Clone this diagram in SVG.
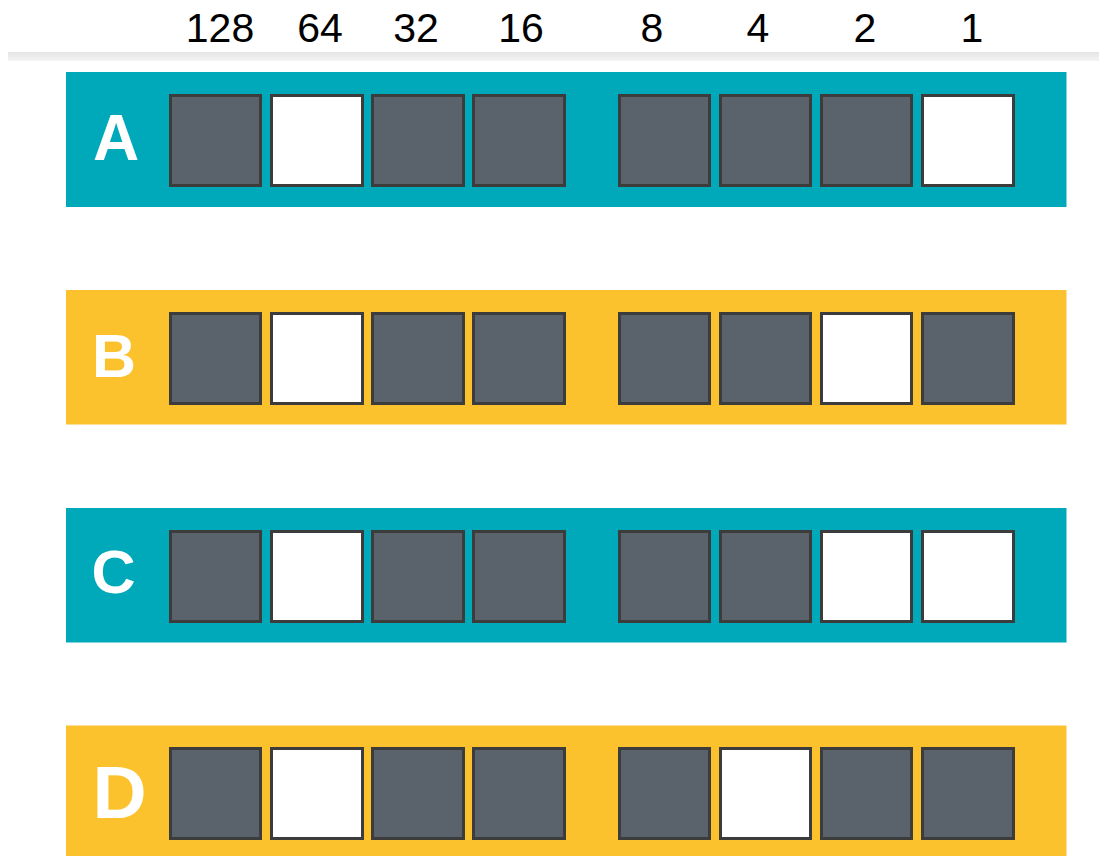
<svg xmlns="http://www.w3.org/2000/svg" width="1099" height="856" viewBox="0 0 1099 856">
<defs>
<linearGradient id="hl" x1="0" y1="0" x2="0" y2="1">
<stop offset="0" stop-color="#e4e4e4"/>
<stop offset="1" stop-color="#f4f4f4"/>
</linearGradient>
</defs>
<style>
.num{font-family:"Liberation Sans",Arial,sans-serif;font-size:41px;fill:#000;text-anchor:middle}
.teal{fill:#00a9ba}
.yel{fill:#fbc22d}
.let{font-family:"Liberation Sans",Arial,sans-serif;font-weight:bold;fill:#fff;text-anchor:middle}
.on{fill:#5a636c;stroke:#3c3c3c;stroke-width:3}
.off{fill:#fff;stroke:#3c3c3c;stroke-width:3}
</style>
<rect width="1099" height="856" fill="#fff"/>
<g id="header">
<rect x="8" y="52" width="1091" height="9" fill="url(#hl)"/>
<text class="num" x="220" y="42">128</text>
<text class="num" x="320" y="42">64</text>
<text class="num" x="416" y="42">32</text>
<text class="num" x="521" y="42">16</text>
<text class="num" x="652" y="42">8</text>
<text class="num" x="758" y="42">4</text>
<text class="num" x="865" y="42">2</text>
<text class="num" x="972" y="42">1</text>
</g>
<g id="rowA">
<rect class="teal" x="66" y="72" width="1000.5" height="135"/>
<text class="let" x="116" y="160" font-size="64">A</text>
<rect class="on" x="170.5" y="95.5" width="90" height="90"/>
<rect class="off" x="271.5" y="95.5" width="91" height="90"/>
<rect class="on" x="372.5" y="95.5" width="91" height="90"/>
<rect class="on" x="473.5" y="95.5" width="91" height="90"/>
<rect class="on" x="619.5" y="95.5" width="90" height="90"/>
<rect class="on" x="720.5" y="95.5" width="90" height="90"/>
<rect class="on" x="821.5" y="95.5" width="90" height="90"/>
<rect class="off" x="922.5" y="95.5" width="91" height="90"/>
</g>
<g id="rowB">
<rect class="yel" x="66" y="290" width="1000.5" height="134.5"/>
<text class="let" x="114" y="377" font-size="61">B</text>
<rect class="on" x="170.5" y="313.5" width="90" height="90"/>
<rect class="off" x="271.5" y="313.5" width="91" height="90"/>
<rect class="on" x="372.5" y="313.5" width="91" height="90"/>
<rect class="on" x="473.5" y="313.5" width="91" height="90"/>
<rect class="on" x="619.5" y="313.5" width="90" height="90"/>
<rect class="on" x="720.5" y="313.5" width="90" height="90"/>
<rect class="off" x="821.5" y="313.5" width="90" height="90"/>
<rect class="on" x="922.5" y="313.5" width="91" height="90"/>
</g>
<g id="rowC">
<rect class="teal" x="66" y="508" width="1000.5" height="134.5"/>
<text class="let" x="113.5" y="593" font-size="61">C</text>
<rect class="on" x="170.5" y="531.5" width="90" height="90"/>
<rect class="off" x="271.5" y="531.5" width="91" height="90"/>
<rect class="on" x="372.5" y="531.5" width="91" height="90"/>
<rect class="on" x="473.5" y="531.5" width="91" height="90"/>
<rect class="on" x="619.5" y="531.5" width="90" height="90"/>
<rect class="on" x="720.5" y="531.5" width="90" height="90"/>
<rect class="off" x="821.5" y="531.5" width="90" height="90"/>
<rect class="off" x="922.5" y="531.5" width="91" height="90"/>
</g>
<g id="rowD">
<rect class="yel" x="66" y="725.5" width="1000.5" height="135"/>
<text class="let" x="119.5" y="818" font-size="75">D</text>
<rect class="on" x="170.5" y="748.5" width="90" height="90"/>
<rect class="off" x="271.5" y="748.5" width="91" height="90"/>
<rect class="on" x="372.5" y="748.5" width="91" height="90"/>
<rect class="on" x="473.5" y="748.5" width="91" height="90"/>
<rect class="on" x="619.5" y="748.5" width="90" height="90"/>
<rect class="off" x="720.5" y="748.5" width="90" height="90"/>
<rect class="on" x="821.5" y="748.5" width="90" height="90"/>
<rect class="on" x="922.5" y="748.5" width="91" height="90"/>
</g>
<g id="connectors"/>
</svg>
